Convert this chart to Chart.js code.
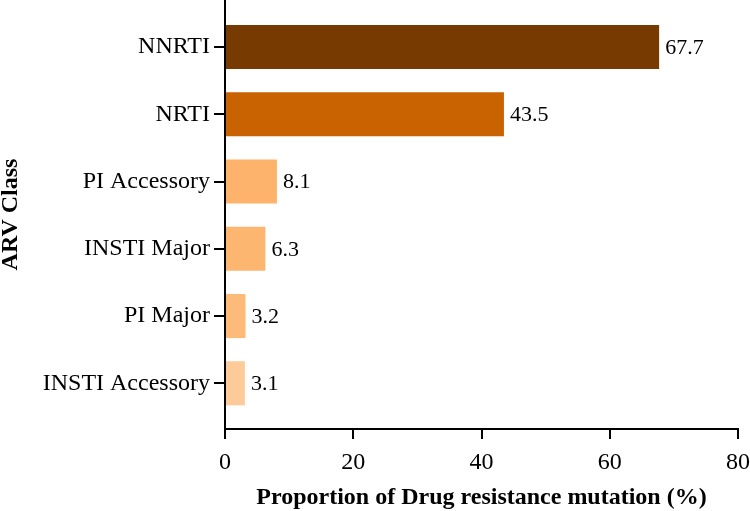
<!DOCTYPE html>
<html>
<head>
<meta charset="utf-8">
<script src="https://cdn.jsdelivr.net/npm/chart.js@4"></script>
<style>
  html, body { margin: 0; padding: 0; background: #fff; }
  #wrap { width: 750px; height: 511px; }
</style>
</head>
<body>
<div id="wrap"><canvas id="arvChart" width="750" height="511"></canvas></div>
<script>
// ARV classes, top to bottom
const categories = ['NNRTI', 'NRTI', 'PI Accessory', 'INSTI Major', 'PI Major', 'INSTI Accessory'];
const values = [67.7, 43.5, 8.1, 6.3, 3.2, 3.1];
const barColors = ['#773a00', '#c96200', '#fdb36c', '#fdb670', '#fdba78', '#fdca99'];
const xTicks = [0, 20, 40, 60, 80];

const serif = 'Liberation Serif';

// writes the value just past the end of each bar
const valueLabels = {
  id: 'valueLabels',
  afterDatasetsDraw(chart) {
    const ctx = chart.ctx;
    const meta = chart.getDatasetMeta(0);
    ctx.save();
    ctx.font = '22px "' + serif + '"';
    ctx.fillStyle = '#000';
    ctx.textAlign = 'left';
    ctx.textBaseline = 'middle';
    meta.data.forEach((bar, i) => {
      ctx.fillText(values[i].toFixed(1), bar.x + 6, bar.y + 1);
    });
    ctx.restore();
  }
};

new Chart(document.getElementById('arvChart'), {
  type: 'bar',
  data: {
    datasets: [{
      label: 'Proportion',
      data: values.map((v, i) => ({ x: v, y: i })),
      backgroundColor: barColors,
      borderWidth: 0,
      categoryPercentage: 0.8,
      barPercentage: 0.82
    }]
  },
  options: {
    indexAxis: 'y',
    responsive: false,
    animation: false,
    layout: { padding: 0 },
    plugins: {
      legend: { display: false },
      tooltip: { enabled: false }
    },
    scales: {
      x: {
        type: 'linear',
        min: 0,
        max: 80,
        afterBuildTicks(scale) { scale.ticks = xTicks.map(v => ({ value: v })); },
        afterFit(scale) {
          scale.height = 82;
          scale.paddingRight = 12;
        },
        border: { color: '#000', width: 2 },
        grid: { drawOnChartArea: false, drawTicks: true, tickLength: 10, color: '#000', lineWidth: 2 },
        ticks: {
          color: '#000',
          padding: 9,
          maxRotation: 0,
          font: { family: serif, size: 24 }
        },
        title: {
          display: true,
          text: 'Proportion of Drug resistance mutation (%)',
          color: '#000',
          padding: 0,
          font: { family: serif, size: 24, weight: 'bold', lineHeight: 1.1 }
        }
      },
      y: {
        type: 'linear',
        reverse: true,
        offset: false,
        min: -0.7,
        max: 5.68,
        afterBuildTicks(scale) { scale.ticks = categories.map((c, i) => ({ value: i })); },
        afterFit(scale) {
          scale.width = 225;
          scale.paddingTop = 0;
          scale.paddingBottom = 0;
        },
        border: { color: '#000', width: 2 },
        grid: { offset: false, drawOnChartArea: false, drawTicks: true, tickLength: 11, color: '#000', lineWidth: 2 },
        ticks: {
          color: '#000',
          padding: 4,
          autoSkip: false,
          font: { family: serif, size: 24 },
          callback: (v) => categories[v]
        },
        title: {
          display: true,
          text: 'ARV Class',
          color: '#000',
          padding: 0,
          font: { family: serif, size: 24, weight: 'bold', lineHeight: 0.9 }
        }
      }
    }
  },
  plugins: [valueLabels]
});
</script>
</body>
</html>
